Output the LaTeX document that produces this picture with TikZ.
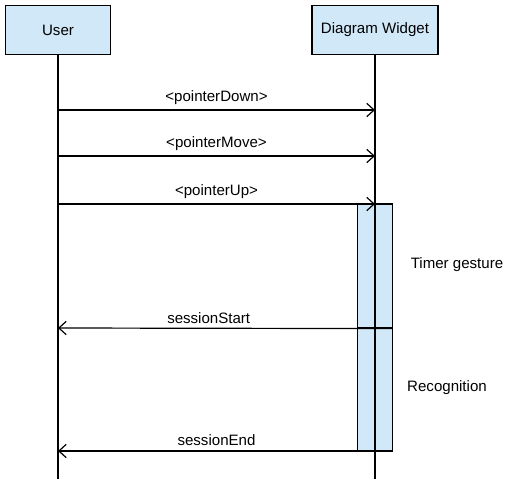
\documentclass[tikz,border=0pt]{standalone}
\usepackage{fontspec}
\setmainfont{Liberation Sans}
\usetikzlibrary{arrows.meta}
\definecolor{boxblue}{RGB}{208,232,247}

\begin{document}
\begin{tikzpicture}[x=0.75pt, y=-0.75pt, line width=0.9pt,
		every node/.style={font=\fontsize{11.3}{13}\selectfont},
		actor/.style={draw, fill=boxblue, minimum height=36.5pt, inner sep=0pt},
		activation/.style={draw, fill=boxblue, minimum width=26pt, inner sep=0pt},
		msg/.style={-{Straight Barb[length=5.5pt, width=10pt]}}]
	\useasboundingbox (0,0) rectangle (512,486);

	% === 参与者 ===
	\node[actor, minimum width=78.5pt] (user) at (58,30) {User};
	\node[actor, minimum width=94.5pt] (widget) at (375,30) {Diagram Widget};

	% 生命线底端
	\coordinate (userEnd) at (58,479);
	\coordinate (widgetEnd) at (375,479);

	% === 激活框 ===
	\node[activation, minimum height=93pt] (timer) at (375,266) {};
	\node[activation, minimum height=92.25pt] (recog) at (375,389.5) {};

	% 生命线
	\draw (user) -- (userEnd);
	\draw (widget) -- (widgetEnd);

	% 消息端点
	\coordinate (u1) at (58,110);  \coordinate (w1) at (375,110);
	\coordinate (u2) at (58,156);  \coordinate (w2) at (375,156);
	\coordinate (u3) at (58,204);  \coordinate (w3) at (375,204);
	\coordinate (u4) at (58,328);
	\coordinate (u5) at (58,451);  \coordinate (w5) at (375,451);

	% === 消息 ===
	\draw[msg] (u1) -- (w1) node[midway, above=0pt] {<pointerDown>};
	\draw[msg] (u2) -- (w2) node[midway, above=0pt] {<pointerMove>};
	\draw[msg] (u3) -- (w3) node[midway, above=0pt] {<pointerUp>};
	\draw[msg] (timer.south east) -- (u4) node[pos=0.55, above=0pt] {sessionStart};
	\draw[msg] (w5) -- (u5) node[midway, above=0pt] {sessionEnd};

	% 激活框说明
	\node (timerLabel) at (457,265) {Timer gesture};
	\node (recogLabel) at (447,388) {Recognition};
\end{tikzpicture}
\end{document}
